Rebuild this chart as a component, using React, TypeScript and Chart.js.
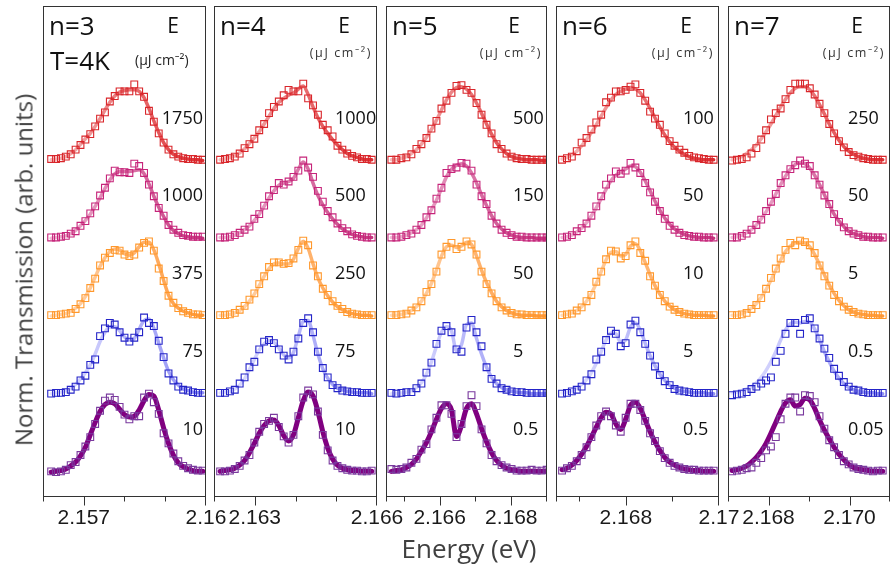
import React, { useEffect, useRef } from "react";
import { Chart, registerables } from "chart.js";

Chart.register(...registerables);

// ---------- energy grids (eV) ----------
const energyN3 = [2.1562, 2.15632, 2.15644, 2.15656, 2.15668, 2.1568, 2.15692, 2.15704, 2.15716, 2.15728, 2.1574, 2.15752, 2.15764, 2.15776, 2.15788, 2.158, 2.15812, 2.15824, 2.15836, 2.15848, 2.1586, 2.15872, 2.15884, 2.15896, 2.15908, 2.1592, 2.15932, 2.15944, 2.15956, 2.15968, 2.1598, 2.15992];
const energyN4 = [2.16215, 2.16227, 2.16239, 2.16251, 2.16263, 2.16275, 2.16287, 2.16299, 2.16311, 2.16323, 2.16335, 2.16347, 2.16359, 2.16371, 2.16383, 2.16395, 2.16407, 2.16419, 2.16431, 2.16443, 2.16455, 2.16467, 2.16479, 2.16491, 2.16503, 2.16515, 2.16527, 2.16539, 2.16551, 2.16563, 2.16575, 2.16587];
const energyN5 = [2.16465, 2.16479, 2.16493, 2.16507, 2.16521, 2.16535, 2.16549, 2.16563, 2.16577, 2.16591, 2.16605, 2.16619, 2.16633, 2.16647, 2.16661, 2.16675, 2.16689, 2.16703, 2.16717, 2.16731, 2.16745, 2.16759, 2.16773, 2.16787, 2.16801, 2.16815, 2.16829, 2.16843, 2.16857, 2.16871, 2.16885, 2.16899];
const energyN6 = [2.16663, 2.166735, 2.16684, 2.166945, 2.16705, 2.167155, 2.16726, 2.167365, 2.16747, 2.167575, 2.16768, 2.167785, 2.16789, 2.167995, 2.1681, 2.168205, 2.16831, 2.168415, 2.16852, 2.168625, 2.16873, 2.168835, 2.16894, 2.169045, 2.16915, 2.169255, 2.16936, 2.169465, 2.16957, 2.169675, 2.16978, 2.169885];
const energyN7 = [2.1671, 2.16722, 2.16734, 2.16746, 2.16758, 2.1677, 2.16782, 2.16794, 2.16806, 2.16818, 2.1683, 2.16842, 2.16854, 2.16866, 2.16878, 2.1689, 2.16902, 2.16914, 2.16926, 2.16938, 2.1695, 2.16962, 2.16974, 2.16986, 2.16998, 2.1701, 2.17022, 2.17034, 2.17046, 2.17058, 2.1707, 2.17082];

// ---------- pump fluences (µJ cm^-2), top trace first ----------
const fluenceN3 = ["1750", "1000", "375", "75", "10"];
const fluenceN4 = ["1000", "500", "250", "75", "10"];
const fluenceN5 = ["500", "150", "50", "5", "0.5"];
const fluenceN6 = ["100", "50", "10", "5", "0.5"];
const fluenceN7 = ["250", "50", "5", "0.5", "0.05"];

// ---------- n = 3 ----------
const n3Data1750 = [0.03, 0.03, 0.04, 0.06, 0.09, 0.15, 0.21, 0.28, 0.35, 0.45, 0.55, 0.63, 0.77, 0.84, 0.9, 0.9, 0.9, 0.99, 0.9, 0.83, 0.65, 0.51, 0.36, 0.24, 0.15, 0.09, 0.06, 0.04, 0.03, 0.03, 0.02, 0.02];
const n3Fit1750 = [0.02, 0.03, 0.04, 0.06, 0.1, 0.15, 0.22, 0.29, 0.36, 0.45, 0.55, 0.66, 0.76, 0.84, 0.89, 0.91, 0.92, 0.92, 0.9, 0.82, 0.68, 0.52, 0.37, 0.24, 0.15, 0.09, 0.06, 0.04, 0.03, 0.02, 0.02, 0.01];
const n3Data1000 = [0.02, 0.02, 0.03, 0.04, 0.07, 0.1, 0.17, 0.23, 0.33, 0.42, 0.56, 0.66, 0.78, 0.88, 0.86, 0.86, 0.85, 0.97, 0.94, 0.85, 0.7, 0.55, 0.4, 0.3, 0.18, 0.12, 0.08, 0.05, 0.04, 0.03, 0.03, 0.03];
const n3Fit1000 = [0.01, 0.02, 0.03, 0.04, 0.07, 0.11, 0.17, 0.24, 0.32, 0.42, 0.53, 0.65, 0.76, 0.84, 0.87, 0.87, 0.87, 0.88, 0.89, 0.84, 0.71, 0.55, 0.41, 0.29, 0.18, 0.11, 0.07, 0.04, 0.03, 0.02, 0.02, 0.01];
const n3Data375 = [0.02, 0.02, 0.03, 0.04, 0.05, 0.1, 0.16, 0.24, 0.37, 0.49, 0.66, 0.76, 0.82, 0.86, 0.85, 0.8, 0.78, 0.8, 0.89, 0.95, 0.97, 0.85, 0.62, 0.46, 0.27, 0.18, 0.11, 0.07, 0.05, 0.03, 0.03, 0.02];
const n3Fit375 = [0.01, 0.02, 0.03, 0.04, 0.07, 0.11, 0.17, 0.26, 0.37, 0.51, 0.65, 0.76, 0.84, 0.87, 0.86, 0.81, 0.79, 0.82, 0.9, 0.96, 0.96, 0.86, 0.68, 0.47, 0.28, 0.17, 0.11, 0.07, 0.05, 0.03, 0.02, 0.02];
const n3Data75 = [0.01, 0.02, 0.02, 0.03, 0.06, 0.1, 0.18, 0.24, 0.38, 0.45, 0.75, 0.85, 0.92, 0.9, 0.8, 0.73, 0.68, 0.73, 0.8, 0.99, 0.92, 0.88, 0.69, 0.48, 0.27, 0.18, 0.1, 0.06, 0.05, 0.03, 0.02, 0.02];
const n3Fit75 = [0.01, 0.02, 0.03, 0.05, 0.08, 0.13, 0.2, 0.28, 0.38, 0.52, 0.68, 0.8, 0.87, 0.87, 0.82, 0.74, 0.7, 0.72, 0.84, 0.95, 0.97, 0.85, 0.66, 0.47, 0.3, 0.19, 0.12, 0.07, 0.05, 0.03, 0.02, 0.02];
const n3Data10 = [0.01, 0.0, 0.01, 0.03, 0.09, 0.13, 0.22, 0.33, 0.45, 0.62, 0.79, 0.92, 0.96, 0.93, 0.84, 0.74, 0.68, 0.72, 0.72, 0.96, 1.01, 0.9, 0.75, 0.5, 0.37, 0.24, 0.14, 0.08, 0.05, 0.03, 0.02, 0.02];
const n3Fit10 = [0.0, 0.01, 0.02, 0.04, 0.08, 0.13, 0.21, 0.32, 0.48, 0.64, 0.78, 0.87, 0.9, 0.88, 0.81, 0.74, 0.71, 0.72, 0.8, 0.92, 1.0, 0.98, 0.8, 0.57, 0.37, 0.22, 0.12, 0.07, 0.04, 0.02, 0.01, 0.01];

// ---------- n = 4 ----------
const n4Data1000 = [0.02, 0.03, 0.04, 0.06, 0.1, 0.17, 0.22, 0.29, 0.4, 0.48, 0.62, 0.7, 0.77, 0.85, 0.92, 0.9, 0.9, 1.0, 0.81, 0.72, 0.6, 0.47, 0.4, 0.32, 0.2, 0.15, 0.1, 0.07, 0.05, 0.03, 0.03, 0.02];
const n4Fit1000 = [0.02, 0.03, 0.05, 0.07, 0.11, 0.16, 0.23, 0.3, 0.38, 0.48, 0.58, 0.68, 0.76, 0.81, 0.85, 0.88, 0.93, 0.97, 0.86, 0.7, 0.56, 0.45, 0.36, 0.28, 0.21, 0.15, 0.1, 0.07, 0.05, 0.03, 0.02, 0.02];
const n4Data500 = [0.02, 0.02, 0.03, 0.05, 0.08, 0.12, 0.16, 0.26, 0.32, 0.43, 0.55, 0.63, 0.72, 0.7, 0.74, 0.8, 0.88, 1.01, 0.92, 0.8, 0.62, 0.48, 0.36, 0.28, 0.2, 0.14, 0.1, 0.06, 0.04, 0.03, 0.02, 0.02];
const n4Fit500 = [0.02, 0.02, 0.03, 0.05, 0.08, 0.12, 0.17, 0.24, 0.32, 0.42, 0.53, 0.62, 0.69, 0.72, 0.74, 0.78, 0.9, 0.99, 0.9, 0.72, 0.56, 0.44, 0.34, 0.26, 0.19, 0.13, 0.09, 0.06, 0.04, 0.03, 0.02, 0.02];
const n4Data250 = [0.02, 0.02, 0.03, 0.05, 0.09, 0.14, 0.22, 0.3, 0.42, 0.52, 0.64, 0.7, 0.7, 0.68, 0.69, 0.75, 0.86, 0.98, 0.92, 0.66, 0.52, 0.36, 0.28, 0.2, 0.14, 0.1, 0.06, 0.04, 0.03, 0.02, 0.02, 0.02];
const n4Fit250 = [0.02, 0.02, 0.03, 0.05, 0.08, 0.13, 0.2, 0.29, 0.4, 0.52, 0.62, 0.68, 0.69, 0.68, 0.68, 0.74, 0.88, 0.97, 0.88, 0.68, 0.5, 0.37, 0.27, 0.19, 0.13, 0.09, 0.06, 0.04, 0.03, 0.02, 0.02, 0.01];
const n4Data75 = [0.02, 0.02, 0.04, 0.06, 0.14, 0.22, 0.35, 0.42, 0.58, 0.68, 0.7, 0.66, 0.58, 0.5, 0.45, 0.55, 0.72, 0.92, 0.98, 0.8, 0.55, 0.34, 0.22, 0.12, 0.08, 0.05, 0.04, 0.03, 0.03, 0.02, 0.02, 0.02];
const n4Fit75 = [0.02, 0.03, 0.04, 0.07, 0.12, 0.2, 0.32, 0.45, 0.57, 0.65, 0.69, 0.67, 0.6, 0.51, 0.47, 0.54, 0.75, 0.94, 0.95, 0.76, 0.52, 0.33, 0.21, 0.13, 0.08, 0.06, 0.04, 0.03, 0.02, 0.02, 0.02, 0.01];
const n4Data10 = [0.01, 0.01, 0.02, 0.04, 0.08, 0.15, 0.22, 0.38, 0.52, 0.62, 0.66, 0.7, 0.58, 0.46, 0.38, 0.48, 0.72, 0.96, 1.05, 1.0, 0.78, 0.48, 0.28, 0.15, 0.08, 0.05, 0.03, 0.02, 0.02, 0.01, 0.01, 0.02];
const n4Fit10 = [0.01, 0.02, 0.03, 0.05, 0.09, 0.15, 0.25, 0.37, 0.5, 0.6, 0.66, 0.67, 0.6, 0.47, 0.4, 0.48, 0.7, 0.92, 1.03, 0.98, 0.78, 0.52, 0.31, 0.17, 0.09, 0.05, 0.03, 0.02, 0.02, 0.01, 0.01, 0.01];

// ---------- n = 5 ----------
const n5Data500 = [0.02, 0.02, 0.04, 0.05, 0.09, 0.16, 0.22, 0.3, 0.42, 0.52, 0.68, 0.78, 0.88, 0.97, 0.98, 0.92, 0.88, 0.75, 0.6, 0.47, 0.36, 0.22, 0.16, 0.1, 0.06, 0.04, 0.03, 0.03, 0.02, 0.02, 0.02, 0.02];
const n5Fit500 = [0.02, 0.02, 0.04, 0.06, 0.1, 0.15, 0.22, 0.31, 0.41, 0.53, 0.66, 0.79, 0.89, 0.95, 0.96, 0.93, 0.86, 0.75, 0.62, 0.48, 0.35, 0.24, 0.16, 0.1, 0.06, 0.04, 0.03, 0.02, 0.02, 0.02, 0.01, 0.01];
const n5Data150 = [0.02, 0.02, 0.03, 0.05, 0.07, 0.12, 0.18, 0.28, 0.37, 0.52, 0.66, 0.85, 0.9, 0.92, 0.98, 0.97, 0.88, 0.7, 0.55, 0.45, 0.3, 0.2, 0.12, 0.08, 0.05, 0.03, 0.03, 0.02, 0.02, 0.02, 0.02, 0.02];
const n5Fit150 = [0.02, 0.02, 0.03, 0.05, 0.08, 0.12, 0.18, 0.27, 0.38, 0.5, 0.65, 0.8, 0.9, 0.95, 0.97, 0.94, 0.85, 0.72, 0.57, 0.43, 0.3, 0.2, 0.13, 0.08, 0.05, 0.03, 0.02, 0.02, 0.02, 0.01, 0.01, 0.01];
const n5Data50 = [0.02, 0.02, 0.03, 0.04, 0.08, 0.12, 0.2, 0.32, 0.42, 0.58, 0.8, 0.9, 0.95, 0.87, 0.9, 0.97, 0.93, 0.8, 0.58, 0.42, 0.3, 0.2, 0.12, 0.08, 0.05, 0.03, 0.03, 0.02, 0.02, 0.02, 0.02, 0.02];
const n5Fit50 = [0.02, 0.02, 0.03, 0.05, 0.08, 0.13, 0.2, 0.3, 0.43, 0.6, 0.78, 0.9, 0.92, 0.89, 0.91, 0.96, 0.93, 0.78, 0.6, 0.44, 0.31, 0.2, 0.13, 0.08, 0.05, 0.03, 0.02, 0.02, 0.02, 0.01, 0.01, 0.01];
const n5Data5 = [0.02, 0.01, 0.02, 0.03, 0.03, 0.08, 0.14, 0.28, 0.41, 0.65, 0.82, 0.88, 0.8, 0.58, 0.55, 0.86, 0.96, 0.8, 0.62, 0.35, 0.2, 0.14, 0.08, 0.06, 0.04, 0.03, 0.03, 0.02, 0.02, 0.02, 0.02, 0.02];
const n5Fit5 = [0.01, 0.01, 0.02, 0.03, 0.05, 0.09, 0.15, 0.26, 0.42, 0.62, 0.8, 0.87, 0.82, 0.56, 0.64, 0.9, 0.92, 0.72, 0.52, 0.35, 0.22, 0.14, 0.09, 0.06, 0.04, 0.03, 0.02, 0.02, 0.01, 0.01, 0.01, 0.01];
const n5Data05 = [0.04, 0.03, 0.04, 0.06, 0.12, 0.17, 0.29, 0.36, 0.55, 0.7, 0.86, 0.86, 0.75, 0.45, 0.62, 0.85, 0.99, 0.85, 0.55, 0.37, 0.22, 0.14, 0.09, 0.06, 0.04, 0.02, 0.02, 0.02, 0.03, 0.02, 0.02, 0.03];
const n5Fit05 = [0.01, 0.02, 0.03, 0.06, 0.1, 0.17, 0.27, 0.38, 0.52, 0.68, 0.82, 0.88, 0.8, 0.46, 0.6, 0.82, 0.88, 0.75, 0.56, 0.39, 0.25, 0.15, 0.09, 0.05, 0.03, 0.02, 0.01, 0.01, 0.01, 0.01, 0.01, 0.01];

// ---------- n = 6 ----------
const n6Data100 = [0.02, 0.04, 0.06, 0.13, 0.24, 0.3, 0.41, 0.5, 0.6, 0.76, 0.82, 0.9, 0.9, 0.92, 0.96, 0.99, 0.88, 0.78, 0.64, 0.55, 0.47, 0.36, 0.26, 0.2, 0.15, 0.11, 0.07, 0.05, 0.04, 0.03, 0.02, 0.02];
const n6Fit100 = [0.03, 0.05, 0.08, 0.13, 0.2, 0.28, 0.37, 0.47, 0.58, 0.69, 0.79, 0.86, 0.9, 0.93, 0.95, 0.93, 0.88, 0.79, 0.68, 0.56, 0.44, 0.34, 0.25, 0.18, 0.13, 0.09, 0.06, 0.04, 0.03, 0.02, 0.02, 0.02];
const n6Data50 = [0.02, 0.03, 0.05, 0.1, 0.14, 0.2, 0.3, 0.42, 0.55, 0.7, 0.78, 0.87, 0.84, 0.88, 0.98, 0.92, 0.85, 0.72, 0.6, 0.48, 0.36, 0.26, 0.17, 0.12, 0.08, 0.05, 0.04, 0.03, 0.03, 0.02, 0.02, 0.02];
const n6Fit50 = [0.02, 0.03, 0.05, 0.09, 0.14, 0.21, 0.3, 0.4, 0.52, 0.64, 0.75, 0.82, 0.86, 0.9, 0.94, 0.93, 0.86, 0.75, 0.62, 0.49, 0.37, 0.27, 0.19, 0.13, 0.09, 0.06, 0.04, 0.03, 0.02, 0.02, 0.02, 0.01];
const n6Data10 = [0.02, 0.03, 0.04, 0.08, 0.12, 0.2, 0.28, 0.45, 0.58, 0.74, 0.85, 0.84, 0.75, 0.78, 0.92, 0.97, 0.82, 0.72, 0.52, 0.4, 0.28, 0.2, 0.13, 0.09, 0.06, 0.04, 0.03, 0.02, 0.02, 0.02, 0.02, 0.02];
const n6Fit10 = [0.02, 0.03, 0.05, 0.08, 0.13, 0.2, 0.3, 0.43, 0.58, 0.73, 0.83, 0.84, 0.78, 0.8, 0.91, 0.94, 0.85, 0.7, 0.54, 0.4, 0.29, 0.2, 0.14, 0.09, 0.06, 0.04, 0.03, 0.02, 0.02, 0.02, 0.01, 0.01];
const n6Data5 = [0.01, 0.02, 0.04, 0.06, 0.1, 0.18, 0.26, 0.45, 0.55, 0.7, 0.82, 0.78, 0.62, 0.66, 0.9, 0.95, 0.8, 0.65, 0.5, 0.36, 0.25, 0.17, 0.12, 0.07, 0.05, 0.04, 0.03, 0.02, 0.02, 0.02, 0.02, 0.02];
const n6Fit5 = [0.02, 0.03, 0.05, 0.08, 0.13, 0.19, 0.28, 0.4, 0.55, 0.7, 0.79, 0.78, 0.67, 0.7, 0.87, 0.92, 0.83, 0.66, 0.5, 0.37, 0.26, 0.18, 0.12, 0.08, 0.05, 0.04, 0.03, 0.02, 0.02, 0.02, 0.01, 0.01];
const n6Data05 = [0.02, 0.05, 0.08, 0.14, 0.22, 0.32, 0.45, 0.6, 0.72, 0.78, 0.72, 0.6, 0.52, 0.7, 0.88, 0.88, 0.8, 0.66, 0.5, 0.4, 0.27, 0.18, 0.12, 0.08, 0.06, 0.04, 0.03, 0.03, 0.02, 0.02, 0.02, 0.02];
const n6Fit05 = [0.03, 0.05, 0.09, 0.15, 0.23, 0.33, 0.45, 0.58, 0.7, 0.77, 0.75, 0.62, 0.55, 0.68, 0.86, 0.9, 0.82, 0.67, 0.52, 0.39, 0.28, 0.19, 0.13, 0.09, 0.06, 0.04, 0.03, 0.02, 0.02, 0.01, 0.01, 0.01];

// ---------- n = 7 ----------
const n7Data250 = [0.01, 0.02, 0.03, 0.05, 0.1, 0.17, 0.28, 0.4, 0.54, 0.62, 0.68, 0.8, 0.92, 1.0, 1.0, 1.0, 0.94, 0.86, 0.74, 0.62, 0.48, 0.36, 0.26, 0.18, 0.12, 0.08, 0.06, 0.04, 0.03, 0.02, 0.02, 0.02];
const n7Fit250 = [0.02, 0.04, 0.06, 0.1, 0.15, 0.21, 0.29, 0.38, 0.48, 0.59, 0.7, 0.8, 0.88, 0.94, 0.96, 0.96, 0.92, 0.84, 0.73, 0.61, 0.48, 0.37, 0.27, 0.19, 0.13, 0.09, 0.06, 0.04, 0.03, 0.02, 0.02, 0.02];
const n7Data50 = [0.02, 0.02, 0.04, 0.07, 0.12, 0.18, 0.25, 0.36, 0.48, 0.58, 0.72, 0.82, 0.9, 0.95, 1.01, 0.97, 0.94, 0.82, 0.7, 0.56, 0.45, 0.32, 0.22, 0.15, 0.1, 0.07, 0.05, 0.03, 0.03, 0.02, 0.02, 0.02];
const n7Fit50 = [0.02, 0.03, 0.05, 0.08, 0.12, 0.18, 0.26, 0.35, 0.46, 0.58, 0.7, 0.81, 0.9, 0.96, 0.98, 0.97, 0.91, 0.82, 0.7, 0.57, 0.44, 0.32, 0.23, 0.16, 0.1, 0.07, 0.05, 0.03, 0.02, 0.02, 0.02, 0.01];
const n7Data5 = [0.02, 0.02, 0.03, 0.05, 0.1, 0.15, 0.24, 0.36, 0.5, 0.62, 0.75, 0.86, 0.95, 0.92, 0.98, 0.96, 0.92, 0.82, 0.66, 0.52, 0.4, 0.28, 0.2, 0.13, 0.09, 0.06, 0.04, 0.03, 0.02, 0.02, 0.02, 0.02];
const n7Fit5 = [0.02, 0.02, 0.04, 0.07, 0.11, 0.17, 0.25, 0.35, 0.47, 0.6, 0.73, 0.84, 0.91, 0.95, 0.96, 0.95, 0.9, 0.8, 0.67, 0.54, 0.41, 0.3, 0.21, 0.14, 0.09, 0.06, 0.04, 0.03, 0.02, 0.02, 0.01, 0.01];
const n7Data05 = [-0.01, 0.0, 0.01, 0.03, 0.07, 0.1, 0.14, 0.18, 0.22, 0.42, 0.56, 0.78, 0.92, 0.92, 0.78, 0.96, 0.98, 0.85, 0.72, 0.59, 0.47, 0.33, 0.24, 0.16, 0.1, 0.06, 0.05, 0.03, 0.02, 0.02, 0.02, 0.02];
const n7Fit05 = [0.02, 0.03, 0.05, 0.07, 0.1, 0.15, 0.22, 0.31, 0.42, 0.55, 0.7, 0.83, 0.91, 0.93, 0.92, 0.94, 0.93, 0.84, 0.7, 0.55, 0.42, 0.3, 0.21, 0.14, 0.09, 0.06, 0.04, 0.03, 0.02, 0.02, 0.01, 0.01];
const n7Data005 = [0.01, 0.02, 0.03, 0.05, 0.06, 0.12, 0.18, 0.28, 0.33, 0.45, 0.68, 0.88, 0.96, 0.96, 0.78, 0.99, 0.98, 0.9, 0.72, 0.56, 0.41, 0.32, 0.22, 0.14, 0.1, 0.06, 0.04, 0.03, 0.02, 0.01, 0.02, 0.02];
const n7Fit005 = [0.02, 0.03, 0.05, 0.08, 0.13, 0.19, 0.27, 0.37, 0.5, 0.64, 0.78, 0.89, 0.93, 0.85, 0.87, 0.95, 0.93, 0.82, 0.67, 0.54, 0.43, 0.32, 0.23, 0.16, 0.1, 0.06, 0.04, 0.03, 0.02, 0.01, 0.01, 0.01];

// ---------- axis ticks per panel ----------
const majorsN3 = [2.157, 2.16];
const majorLabelsN3 = ["2.157", "2.16"];
const minorsN3 = [2.158, 2.159];
const majorsN4 = [2.163, 2.166];
const majorLabelsN4 = ["2.163", "2.166"];
const minorsN4 = [2.164, 2.165];
const majorsN5 = [2.166, 2.168];
const majorLabelsN5 = ["2.166", "2.168"];
const minorsN5 = [2.165, 2.167];
const majorsN6 = [2.168, 2.17];
const majorLabelsN6 = ["2.168", "2.17"];
const minorsN6 = [2.167, 2.169];
const majorsN7 = [2.168, 2.17];
const majorLabelsN7 = ["2.168", "2.170"];
const minorsN7 = [2.169];

type PanelData = {
  n: number;
  energy: number[];
  min: number;
  max: number;
  majors: number[];
  majorLabels: string[];
  minors: number[];
  fluence: string[];
  marks: number[][];
  fits: number[][];
};

const panels: PanelData[] = [
  {
    n: 3, energy: energyN3, min: 2.156, max: 2.16,
    majors: majorsN3, majorLabels: majorLabelsN3, minors: minorsN3, fluence: fluenceN3,
    marks: [n3Data1750, n3Data1000, n3Data375, n3Data75, n3Data10],
    fits: [n3Fit1750, n3Fit1000, n3Fit375, n3Fit75, n3Fit10],
  },
  {
    n: 4, energy: energyN4, min: 2.162, max: 2.166,
    majors: majorsN4, majorLabels: majorLabelsN4, minors: minorsN4, fluence: fluenceN4,
    marks: [n4Data1000, n4Data500, n4Data250, n4Data75, n4Data10],
    fits: [n4Fit1000, n4Fit500, n4Fit250, n4Fit75, n4Fit10],
  },
  {
    n: 5, energy: energyN5, min: 2.1645, max: 2.169,
    majors: majorsN5, majorLabels: majorLabelsN5, minors: minorsN5, fluence: fluenceN5,
    marks: [n5Data500, n5Data150, n5Data50, n5Data5, n5Data05],
    fits: [n5Fit500, n5Fit150, n5Fit50, n5Fit5, n5Fit05],
  },
  {
    n: 6, energy: energyN6, min: 2.1665, max: 2.17,
    majors: majorsN6, majorLabels: majorLabelsN6, minors: minorsN6, fluence: fluenceN6,
    marks: [n6Data100, n6Data50, n6Data10, n6Data5, n6Data05],
    fits: [n6Fit100, n6Fit50, n6Fit10, n6Fit5, n6Fit05],
  },
  {
    n: 7, energy: energyN7, min: 2.167, max: 2.171,
    majors: majorsN7, majorLabels: majorLabelsN7, minors: minorsN7, fluence: fluenceN7,
    marks: [n7Data250, n7Data50, n7Data5, n7Data05, n7Data005],
    fits: [n7Fit250, n7Fit50, n7Fit5, n7Fit05, n7Fit005],
  },
];

// ---------- layout & styling ----------
const FIG_W = 892;
const FIG_H = 568;
const PAD = 36;
const PLOT_TOP = 5;
const PLOT_BOTTOM = 497;
const AXIS_H = 40;
const Y_MIN = -0.32;
const Y_MAX = 6.0;
const ROW_OFFSETS = [4, 3, 2, 1, 0];
const LABEL_LIFT = 0.55;

const panelBoxes = [
  { left: 43, width: 163, labelX: 160, labelAlign: "right" as CanvasTextAlign },
  { left: 214, width: 163, labelX: 121, labelAlign: "left" as CanvasTextAlign },
  { left: 386, width: 161, labelX: 127, labelAlign: "left" as CanvasTextAlign },
  { left: 556, width: 163, labelX: 127, labelAlign: "left" as CanvasTextAlign },
  { left: 728, width: 162, labelX: 120, labelAlign: "left" as CanvasTextAlign },
];

const rowStyles = [
  { mark: "#d9262b", from: "#f7c2c2", to: "#dc2a2e", width: 3.5 },
  { mark: "#c6247a", from: "#f2bdd7", to: "#c4347c", width: 3.5 },
  { mark: "#ff982c", from: "#ffdcbc", to: "#ff9636", width: 3.5 },
  { mark: "#2424c8", from: "#e6e6ff", to: "#8c8cf4", width: 3.5 },
  { mark: "#7a3a9e", from: "#800080", to: "#800080", width: 5 },
];

const TEXT_FONT = '"Open Sans", "Noto Sans", sans-serif';

const panelDecor = {
  id: "panelDecor",
  afterDraw(chart: any, _args: any, opts: any) {
    const { ctx, chartArea: a } = chart;
    const xs = chart.scales.x;
    const ys = chart.scales.y;
    ctx.save();

    // frame and outward tick marks
    const L = Math.round(a.left) + 0.5;
    const R = Math.round(a.right) - 0.5;
    const T = Math.round(a.top) + 0.5;
    const B = Math.round(a.bottom) - 0.5;
    ctx.strokeStyle = "#333";
    ctx.lineWidth = 1;
    ctx.strokeRect(L, T, R - L, B - T);
    ctx.beginPath();
    const tick = (v: number, len: number) => {
      let px = Math.round(xs.getPixelForValue(v)) + 0.5;
      px = Math.max(L, Math.min(R, px));
      ctx.moveTo(px, B);
      ctx.lineTo(px, B + len);
    };
    ctx.moveTo(L, B);
    ctx.lineTo(L, B + 5);
    ctx.moveTo(R, B);
    ctx.lineTo(R, B + 5);
    opts.minors.forEach((v: number) => tick(v, 5));
    opts.majors.forEach((v: number) => tick(v, 9));
    ctx.stroke();

    // headings
    ctx.fillStyle = "#111";
    ctx.textBaseline = "alphabetic";
    ctx.textAlign = "left";
    ctx.font = `26px ${TEXT_FONT}`;
    ctx.fillText(`n=${opts.n}`, a.left + 6, 35);
    ctx.textAlign = "center";
    ctx.font = `21px ${TEXT_FONT}`;
    ctx.fillText("E", a.right - 33, 33);

    if (opts.first) {
      ctx.textAlign = "left";
      ctx.font = `26px ${TEXT_FONT}`;
      ctx.fillText("T=4K", a.left + 7, 70);
      ctx.font = `14px ${TEXT_FONT}`;
      ctx.fillStyle = "#222";
      ctx.fillText("(µJ cm⁻²)", a.left + 92, 65);
    } else {
      ctx.textAlign = "right";
      ctx.font = `12.5px ${TEXT_FONT}`;
      ctx.fillStyle = "#333";
      (ctx as any).letterSpacing = "1.6px";
      ctx.fillText("(µJ cm⁻²)", a.right - 5, 57);
      (ctx as any).letterSpacing = "0px";
    }

    // fluence labels next to each trace
    ctx.fillStyle = "#111";
    ctx.font = `18px ${TEXT_FONT}`;
    ctx.textAlign = opts.labelAlign;
    ctx.textBaseline = "middle";
    opts.fluence.forEach((txt: string, r: number) => {
      const y = ys.getPixelForValue(ROW_OFFSETS[r] + LABEL_LIFT);
      ctx.fillText(txt, a.left + opts.labelX, y);
    });
    ctx.restore();
  },
};

function SpectrumPanel({ panel, index }: { panel: PanelData; index: number }) {
  const ref = useRef<HTMLCanvasElement>(null);
  const box = panelBoxes[index];
  const cw = box.width + 2 * PAD;

  useEffect(() => {
    if (!ref.current) return;
    const datasets: any[] = [];
    panel.fits.forEach((fit, r) => {
      const st = rowStyles[r];
      const off = ROW_OFFSETS[r];
      datasets.push({
        type: "line",
        data: panel.energy.map((e, i) => ({ x: e, y: panel.marks[r][i] + off })),
        showLine: false,
        pointStyle: "rect",
        pointRadius: 4.8,
        pointBorderWidth: 1.1,
        pointBorderColor: st.mark,
        pointBackgroundColor: "rgba(0,0,0,0)",
        borderColor: st.mark,
        backgroundColor: "rgba(0,0,0,0)",
        order: 1,
      });
      datasets.push({
        type: "line",
        data: panel.energy.map((e, i) => ({ x: e, y: fit[i] + off })),
        borderColor: (c: any) => {
          const a = c.chart.chartArea;
          if (!a) return st.to;
          const g = c.chart.ctx.createLinearGradient(a.left, 0, a.right, 0);
          g.addColorStop(0, st.from);
          g.addColorStop(1, st.to);
          return g;
        },
        borderWidth: st.width,
        borderCapStyle: "round",
        pointRadius: 0,
        cubicInterpolationMode: "monotone",
        fill: false,
        order: 2,
      });
    });

    const chart = new Chart(ref.current, {
      type: "line",
      data: { datasets },
      plugins: [panelDecor],
      options: {
        responsive: false,
        animation: false,
        events: [],
        layout: {
          padding: { left: PAD, right: PAD, top: PLOT_TOP, bottom: FIG_H - PLOT_BOTTOM - AXIS_H },
        },
        plugins: {
          legend: { display: false },
          tooltip: { enabled: false },
          panelDecor: {
            n: panel.n,
            first: index === 0,
            majors: panel.majors,
            minors: panel.minors,
            fluence: panel.fluence,
            labelX: box.labelX,
            labelAlign: box.labelAlign,
          },
        } as any,
        scales: {
          x: {
            type: "linear",
            position: "bottom",
            min: panel.min,
            max: panel.max,
            grid: { display: false, drawTicks: false },
            border: { display: false },
            afterBuildTicks: (scale: any) => {
              scale.ticks = panel.majors.map((v) => ({ value: v }));
            },
            afterFit: (scale: any) => {
              scale.height = AXIS_H;
            },
            ticks: {
              autoSkip: false,
              maxRotation: 0,
              padding: 9,
              color: "#1a1a1a",
              font: { family: '"Liberation Sans", Arial, sans-serif', size: 21 },
              callback: (_v: any, i: number) => panel.majorLabels[i],
            },
          },
          y: {
            type: "linear",
            display: false,
            min: Y_MIN,
            max: Y_MAX,
          },
        },
      } as any,
    });
    return () => chart.destroy();
  }, [panel, index]);

  return (
    <canvas
      ref={ref}
      width={cw}
      height={FIG_H}
      style={{ position: "absolute", left: box.left - PAD, top: 0, width: cw, height: FIG_H }}
    />
  );
}

export default function App() {
  return (
    <div
      style={{
        position: "fixed",
        left: 0,
        top: 0,
        width: FIG_W,
        height: FIG_H,
        background: "#fff",
        overflow: "hidden",
      }}
    >
      {panels.map((p, k) => (
        <SpectrumPanel key={p.n} panel={p} index={k} />
      ))}
      <div
        style={{
          position: "absolute",
          left: 369,
          top: 530,
          width: 200,
          textAlign: "center",
          font: `26px ${TEXT_FONT}`,
          color: "#404040",
          whiteSpace: "nowrap",
        }}
      >
        Energy (eV)
      </div>
      <div
        style={{
          position: "absolute",
          left: 23,
          top: 270,
          transform: "translate(-50%, -50%) rotate(-90deg)",
          font: `24px ${TEXT_FONT}`,
          color: "#404040",
          whiteSpace: "nowrap",
        }}
      >
        Norm. Transmission (arb. units)
      </div>
    </div>
  );
}
